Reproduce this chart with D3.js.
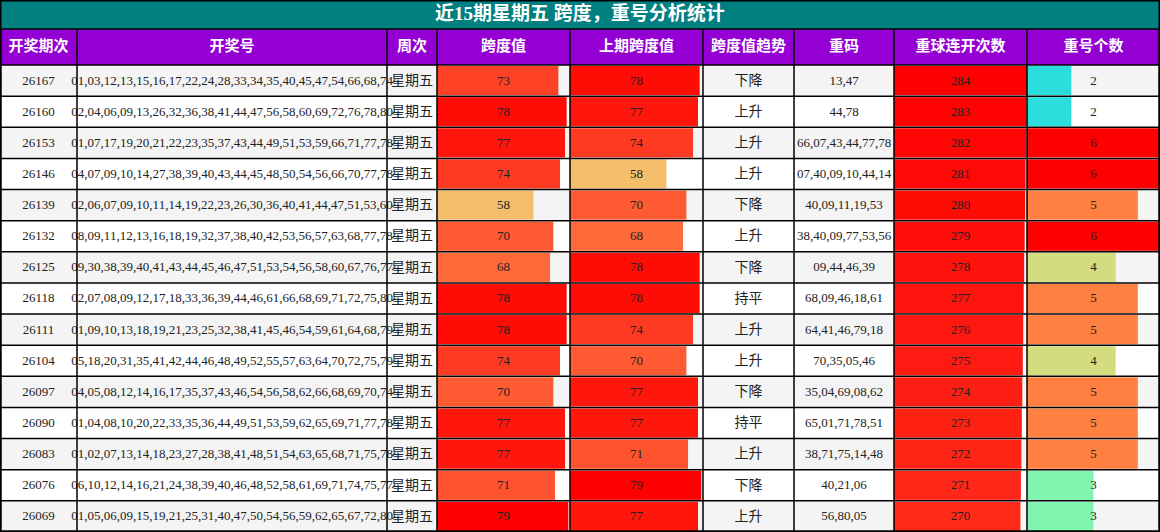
<!DOCTYPE html>
<html><head><meta charset="utf-8">
<script src="https://cdn.jsdelivr.net/npm/d3@7"></script>
<style>body{margin:0;background:#fff}</style>
</head><body><div id="vis"></div>
<script>
// data
const ISSUES = ["26167","26160","26153","26146","26139","26132","26125","26118","26111","26104","26097","26090","26083","26076","26069"];
const DRAWS = [
 "01,03,12,13,15,16,17,22,24,28,33,34,35,40,45,47,54,66,68,74",
 "02,04,06,09,13,26,32,36,38,41,44,47,56,58,60,69,72,76,78,80",
 "01,07,17,19,20,21,22,23,35,37,43,44,49,51,53,59,66,71,77,78",
 "04,07,09,10,14,27,38,39,40,43,44,45,48,50,54,56,66,70,77,78",
 "02,06,07,09,10,11,14,19,22,23,26,30,36,40,41,44,47,51,53,60",
 "08,09,11,12,13,16,18,19,32,37,38,40,42,53,56,57,63,68,77,78",
 "09,30,38,39,40,41,43,44,45,46,47,51,53,54,56,58,60,67,76,77",
 "02,07,08,09,12,17,18,33,36,39,44,46,61,66,68,69,71,72,75,80",
 "01,09,10,13,18,19,21,23,25,32,38,41,45,46,54,59,61,64,68,79",
 "05,18,20,31,35,41,42,44,46,48,49,52,55,57,63,64,70,72,75,79",
 "04,05,08,12,14,16,17,35,37,43,46,54,56,58,62,66,68,69,70,74",
 "01,04,08,10,20,22,33,35,36,44,49,51,53,59,62,65,69,71,77,78",
 "01,02,07,13,14,18,23,27,28,38,41,48,51,54,63,65,68,71,75,78",
 "06,10,12,14,16,21,24,38,39,40,46,48,52,58,61,69,71,74,75,77",
 "01,05,06,09,15,19,21,25,31,40,47,50,54,56,59,62,65,67,72,80"];
const SPAN = [73,78,77,74,58,70,68,78,78,74,70,77,77,71,79];
const PREV_SPAN = [78,77,74,58,70,68,78,78,74,70,77,77,71,79,77];
const TREND = ["下降","上升","上升","上升","下降","上升","下降","持平","上升","上升","下降","持平","上升","下降","上升"];
const REPEAT = ["13,47","44,78","66,07,43,44,77,78","07,40,09,10,44,14","40,09,11,19,53","38,40,09,77,53,56","09,44,46,39","68,09,46,18,61","64,41,46,79,18","70,35,05,46","35,04,69,08,62","65,01,71,78,51","38,71,75,14,48","40,21,06","56,80,05"];
const STREAK = [284,283,282,281,280,279,278,277,276,275,274,273,272,271,270];
const REPEAT_N = [2,2,6,6,5,6,4,5,5,4,5,5,5,3,3];
const HEADERS = ["开奖期次","开奖号","周次","跨度值","上期跨度值","跨度值趋势","重码","重球连开次数","重号个数"];
const TITLE = "近15期星期五 跨度，重号分析统计";

const W = 1160, H = 532;
const COL_X = [0,77,387,437,570,703,794,894,1027,1160];
const TITLE_H = 29, HEAD_H = 36;
const FONT = "'Liberation Serif','Noto Sans CJK SC',serif";

const svg = d3.select("#vis").append("svg").attr("width", W).attr("height", H)
  .style("font-family", FONT);

const Y = d3.scaleBand().domain(d3.range(ISSUES.length)).range([TITLE_H + HEAD_H, H]);

// title
svg.append("rect").attr("x",0).attr("y",0).attr("width",W).attr("height",TITLE_H).attr("fill","#008080");
svg.append("text").attr("x",W/2).attr("y",TITLE_H/2+1).attr("text-anchor","middle").attr("dominant-baseline","middle")
  .attr("fill","#fff").attr("font-size",19).attr("font-weight","bold").text(TITLE);

// header
svg.append("rect").attr("x",0).attr("y",TITLE_H).attr("width",W).attr("height",HEAD_H).attr("fill","#9400d3");
HEADERS.forEach((h,i)=>{
  svg.append("text").attr("x",(COL_X[i]+COL_X[i+1])/2).attr("y",TITLE_H+HEAD_H/2+1)
    .attr("text-anchor","middle").attr("dominant-baseline","middle").attr("fill","#fff")
    .attr("font-size",15).attr("font-weight","bold").text(h);
});

// row backgrounds
svg.append("g").selectAll("rect").data(ISSUES).enter().append("rect")
  .attr("x",0).attr("y",(d,i)=>Y(i)).attr("width",W).attr("height",Y.bandwidth())
  .attr("fill",(d,i)=> i%2===0 ? "#f4f4f4" : "#ffffff");

// bar scales
const spanX = d3.scaleLinear().domain([0,80]).range([0, COL_X[4]-COL_X[3]]);
const spanColor = d3.scaleLinear().domain([58,68,74,79]).range(["#f5be6a","#ff6a3a","#ff3a22","#ff0000"]);
const streakX = d3.scaleLinear().domain([0,284]).range([0, COL_X[8]-COL_X[7]]);
const streakColor = d3.scaleLinear().domain([270,284]).range(["#ff2a1a","#ff0000"]);
const nX = d3.scaleLinear().domain([0,6]).range([0, COL_X[9]-COL_X[8]]);
const nColor = d3.scaleOrdinal().domain([2,3,4,5,6]).range(["#2adede","#80f5b0","#d4dc80","#ff8040","#ff0000"]);

function bars(col, vals, xs, cs){
  svg.append("g").selectAll("rect").data(vals).enter().append("rect")
    .attr("x",COL_X[col]).attr("y",(d,i)=>Y(i)+1).attr("width",d=>xs(d)).attr("height",Y.bandwidth()-2)
    .attr("fill",d=>cs(d));
}
bars(3, SPAN, spanX, spanColor);
bars(4, PREV_SPAN, spanX, spanColor);
bars(7, STREAK, streakX, streakColor);
bars(8, REPEAT_N, nX, nColor);

// cell texts
const COLS = [ISSUES, DRAWS, ISSUES.map(()=>"星期五"), SPAN, PREV_SPAN, TREND, REPEAT, STREAK, REPEAT_N];
COLS.forEach((vals,c)=>{
  svg.append("g").selectAll("text").data(vals).enter().append("text")
    .attr("x",(COL_X[c]+COL_X[c+1])/2).attr("y",(d,i)=>Y(i)+Y.bandwidth()/2+1)
    .attr("text-anchor","middle").attr("dominant-baseline","middle")
    .attr("font-size", (c===2||c===5) ? 14 : 13).attr("fill","#222").text(d=>d);
});

// grid lines
const grid = svg.append("g").attr("stroke","#000").attr("stroke-width",1.5);
COL_X.forEach(x=>{
  grid.append("line").attr("x1",Math.min(Math.max(x,0.75),W-0.75)).attr("x2",Math.min(Math.max(x,0.75),W-0.75))
    .attr("y1",TITLE_H).attr("y2",H);
});
d3.range(ISSUES.length+1).forEach(i=>{
  const y = i===ISSUES.length ? H-0.75 : Y(i);
  grid.append("line").attr("x1",0).attr("x2",W).attr("y1",y).attr("y2",y);
});
grid.append("line").attr("x1",0).attr("x2",W).attr("y1",TITLE_H).attr("y2",TITLE_H);
grid.append("rect").attr("x",0.75).attr("y",0.75).attr("width",W-1.5).attr("height",H-1.5).attr("fill","none");
</script></body></html>
